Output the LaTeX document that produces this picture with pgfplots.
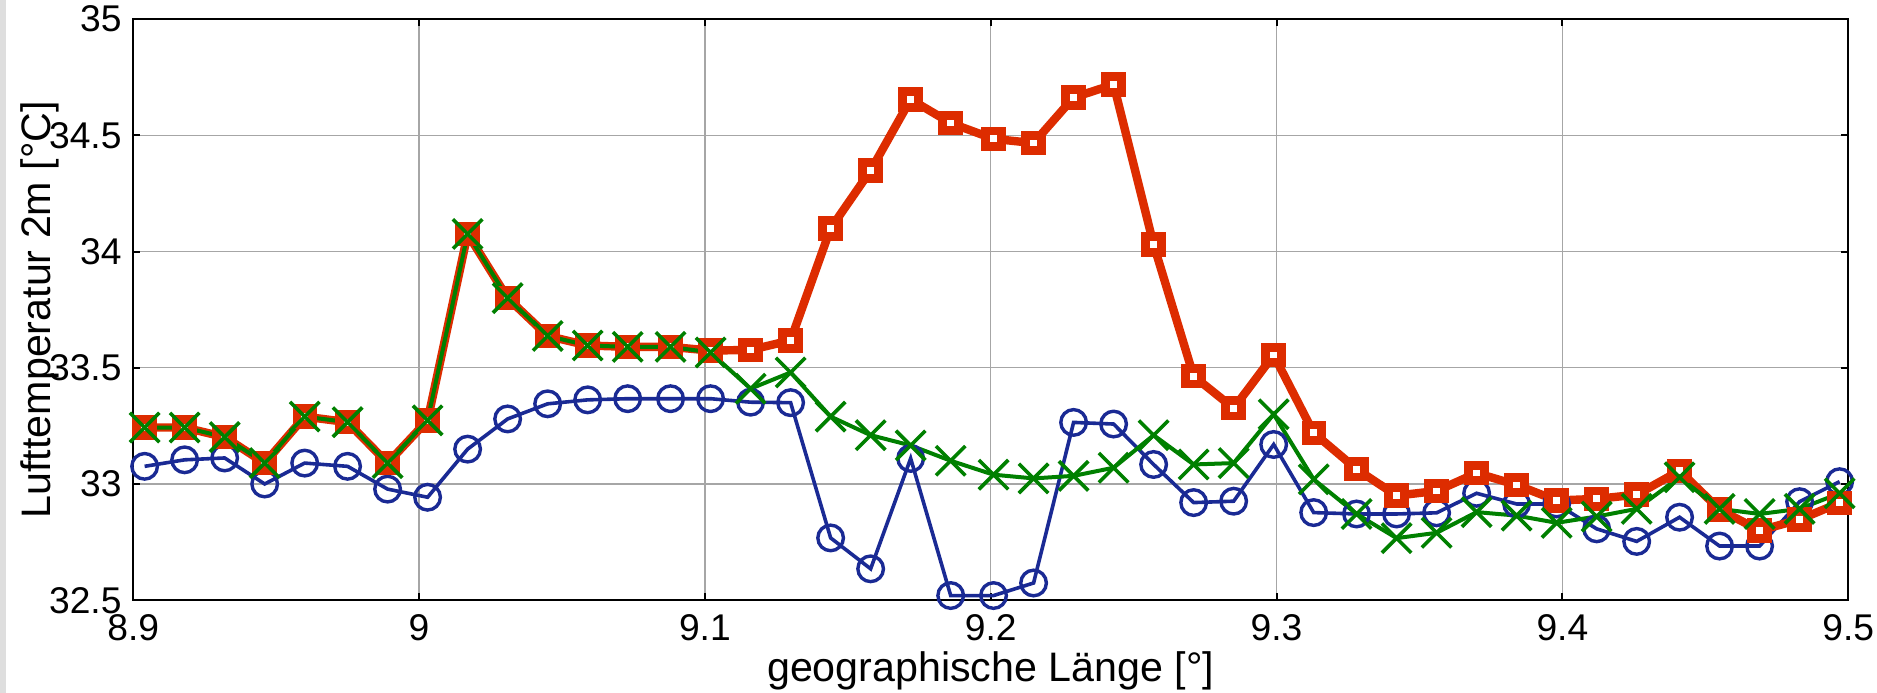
\documentclass[border=0pt]{standalone}
\usepackage{fontspec}
\setmainfont{Liberation Sans}
\usepackage{pgfplots}
\usepackage{pgfplotstable}
\pgfplotsset{compat=1.18}

\definecolor{mblue}{RGB}{26,42,148}
\definecolor{mred}{RGB}{221,44,0}
\definecolor{mgreen}{RGB}{0,128,0}

% Laengengrad, drei Modelllaeufe
\pgfplotstableread{
x      blue    red     green
8.904  33.076  33.243  33.243
8.918  33.104  33.243  33.243
8.932  33.112  33.202  33.202
8.946  33.000  33.090  33.090
8.960  33.090  33.290  33.290
8.975  33.076  33.266  33.266
8.989  32.978  33.090  33.090
9.003  32.943  33.274  33.274
9.017  33.150  34.076  34.076
9.031  33.280  33.800  33.800
9.045  33.345  33.637  33.637
9.059  33.362  33.596  33.596
9.073  33.367  33.590  33.590
9.088  33.367  33.590  33.590
9.102  33.367  33.574  33.566
9.116  33.352  33.577  33.410
9.130  33.350  33.618  33.480
9.144  32.768  34.100  33.290
9.158  32.635  34.349  33.210
9.172  33.110  34.655  33.166
9.186  32.520  34.553  33.100
9.201  32.520  34.485  33.040
9.215  32.574  34.467  33.024
9.229  33.265  34.663  33.035
9.243  33.258  34.719  33.070
9.257  33.084  34.030  33.210
9.271  32.920  33.464  33.084
9.285  32.926  33.326  33.090
9.299  33.170  33.555  33.300
9.313  32.877  33.220  33.020
9.328  32.871  33.064  32.871
9.342  32.871  32.950  32.767
9.356  32.876  32.970  32.790
9.370  32.960  33.047  32.879
9.384  32.914  32.996  32.864
9.398  32.914  32.929  32.833
9.412  32.807  32.936  32.860
9.426  32.753  32.954  32.893
9.441  32.857  33.057  33.029
9.455  32.733  32.890  32.893
9.469  32.733  32.800  32.871
9.483  32.924  32.847  32.893
9.497  33.010  32.919  32.960
}\temps

\begin{document}
\begin{tikzpicture}
\begin{axis}[
    name=ax,
    scale only axis,
    width=428.75pt,
    height=145.25pt,
    xmin=8.9, xmax=9.5,
    ymin=32.5, ymax=35,
    xtick={8.9,9,9.1,9.2,9.3,9.4,9.5},
    xticklabels={8.9,9,9.1,9.2,9.3,9.4,9.5},
    ytick={32.5,33,33.5,34,34.5,35},
    yticklabels={32.5,33,33.5,34,34.5,35},
    grid=major,
    major grid style={draw=black!35, line width=0.35pt},
    tick align=inside,
    major tick length=1.8pt,
    tick style={black, line width=0.5pt},
    axis line style={line width=0.6pt},
    ticklabel style={font=\fontsize{9.3}{11}\selectfont},
    yticklabel style={xshift=0.6pt},
    /pgf/number format/assume math mode=true,
    label style={font=\fontsize{10.3}{12}\selectfont},
    xlabel={geographische Länge [°]},
    ylabel={Lufttemperatur 2m [°C]},
    ylabel style={at={(axis description cs:-0.043,0.5)}, anchor=south, inner sep=0pt},
    xlabel style={at={(axis description cs:0.5,0)}, anchor=base, yshift=-20.4pt, inner sep=0pt},
    clip=false,
]
\addplot[color=mblue, line width=0.9pt, mark=o, mark size=3.2pt,
    mark options={line width=0.85pt}] table[x=x, y=blue] {\temps};
\addplot[color=mred, line width=2.1pt, mark=square*, mark size=1.95pt,
    mark options={line width=2.2pt, fill=white}] table[x=x, y=red] {\temps};
\addplot[color=mgreen, line width=1pt, mark=x, mark size=5.2pt,
    mark options={line width=0.9pt}] table[x=x, y=green] {\temps};
\end{axis}
\pgfresetboundingbox
\fill[black!13] ([xshift=-33.3pt,yshift=-23.2pt]ax.south west) rectangle ([xshift=-31.8pt,yshift=4.8pt]ax.north west);
\path ([xshift=-33.3pt,yshift=-23.2pt]ax.south west) rectangle ([xshift=7.2pt,yshift=4.8pt]ax.north east);
\end{tikzpicture}
\end{document}
